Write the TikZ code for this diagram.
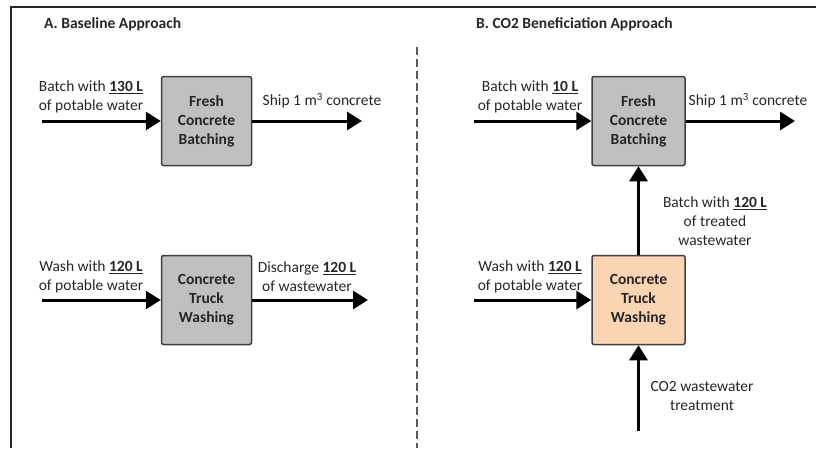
\documentclass[tikz,border=0pt]{standalone}
\usepackage{fontspec}
\setmainfont{Carlito}
\usetikzlibrary{arrows.meta}
\definecolor{boxgray}{HTML}{C0C0C0}
\definecolor{boxorange}{HTML}{FBD4B4}
\definecolor{edgegray}{HTML}{404040}
\begin{document}
\begin{tikzpicture}[x=1pt,y=-1pt,
  every node/.style={font=\fontsize{15.5}{19}\selectfont,text=black!85},
  proc/.style={draw=edgegray,line width=1.5pt,fill=boxgray,rounded corners=2pt,
    minimum width=90pt,minimum height=89pt,align=center,
    font=\fontsize{15.5}{19}\selectfont\bfseries},
  flow/.style={line width=3pt,-{Triangle[length=15pt,width=18pt]}},
  lbl/.style={align=center,inner sep=0pt},
  ttl/.style={anchor=west,inner sep=0pt,font=\fontsize{15.5}{19}\selectfont\bfseries}]
\useasboundingbox (0,0) rectangle (816,448);
% frame and divider
\draw[line width=2.5pt,black!85] (11,448) -- (11,7) -- (816,7);
\draw[line width=2pt,black!65,dash pattern=on 8pt off 4pt] (417,47) -- (417,448);
% A: baseline
\begin{scope}
\node[ttl] (tA) at (44,24) {A. Baseline Approach};
\node[proc] (fa) at (206.5,121) {Fresh\\Concrete\\Batching};
\node[proc] (wa) at (206.5,300) {Concrete\\Truck\\Washing};
\coordinate (fa-in) at (42,121); \coordinate (fa-out) at (362,121);
\coordinate (wa-in) at (42,300); \coordinate (wa-out) at (368,300);
\draw[flow] (fa-in) -- (fa); \draw[flow] (fa) -- (fa-out);
\draw[flow] (wa-in) -- (wa); \draw[flow] (wa) -- (wa-out);
\node[lbl] (la1) at (91,97) {Batch with \underline{\textbf{130 L}}\\of potable water};
\node[lbl] (la2) at (322,101) {Ship 1 m\textsuperscript{3} concrete};
\node[lbl] (la3) at (91,277) {Wash with \underline{\textbf{120 L}}\\of potable water};
\node[lbl] (la4) at (307,277) {Discharge \underline{\textbf{120 L}}\\of wastewater};
\end{scope}
% B: CO2 beneficiation
\begin{scope}
\node[ttl] (tB) at (476,24) {B. CO2 Beneficiation Approach};
\node[proc,minimum width=93pt] (fb) at (638.5,121) {Fresh\\Concrete\\Batching};
\node[proc,minimum width=93pt,fill=boxorange] (wb) at (638.5,300) {Concrete\\Truck\\Washing};
\coordinate (fb-in) at (474,121); \coordinate (fb-out) at (795,121);
\coordinate (wb-in) at (474,300); \coordinate (wb-co2) at (638.5,431);
\draw[flow] (fb-in) -- (fb); \draw[flow] (fb) -- (fb-out);
\draw[flow] (wb-in) -- (wb); \draw[flow] (wb) -- (fb);
\draw[flow] (wb-co2) -- (wb);
\node[lbl] (lb1) at (530,97) {Batch with \underline{\textbf{10 L}}\\of potable water};
\node[lbl] (lb2) at (748,101) {Ship 1 m\textsuperscript{3} concrete};
\node[lbl] (lb3) at (715,221) {Batch with \underline{\textbf{120 L}}\\of treated\\wastewater};
\node[lbl] (lb4) at (530,277) {Wash with \underline{\textbf{120 L}}\\of potable water};
\node[lbl] (lb5) at (702,396) {CO2 wastewater\\treatment};
\end{scope}
\end{tikzpicture}
\end{document}
